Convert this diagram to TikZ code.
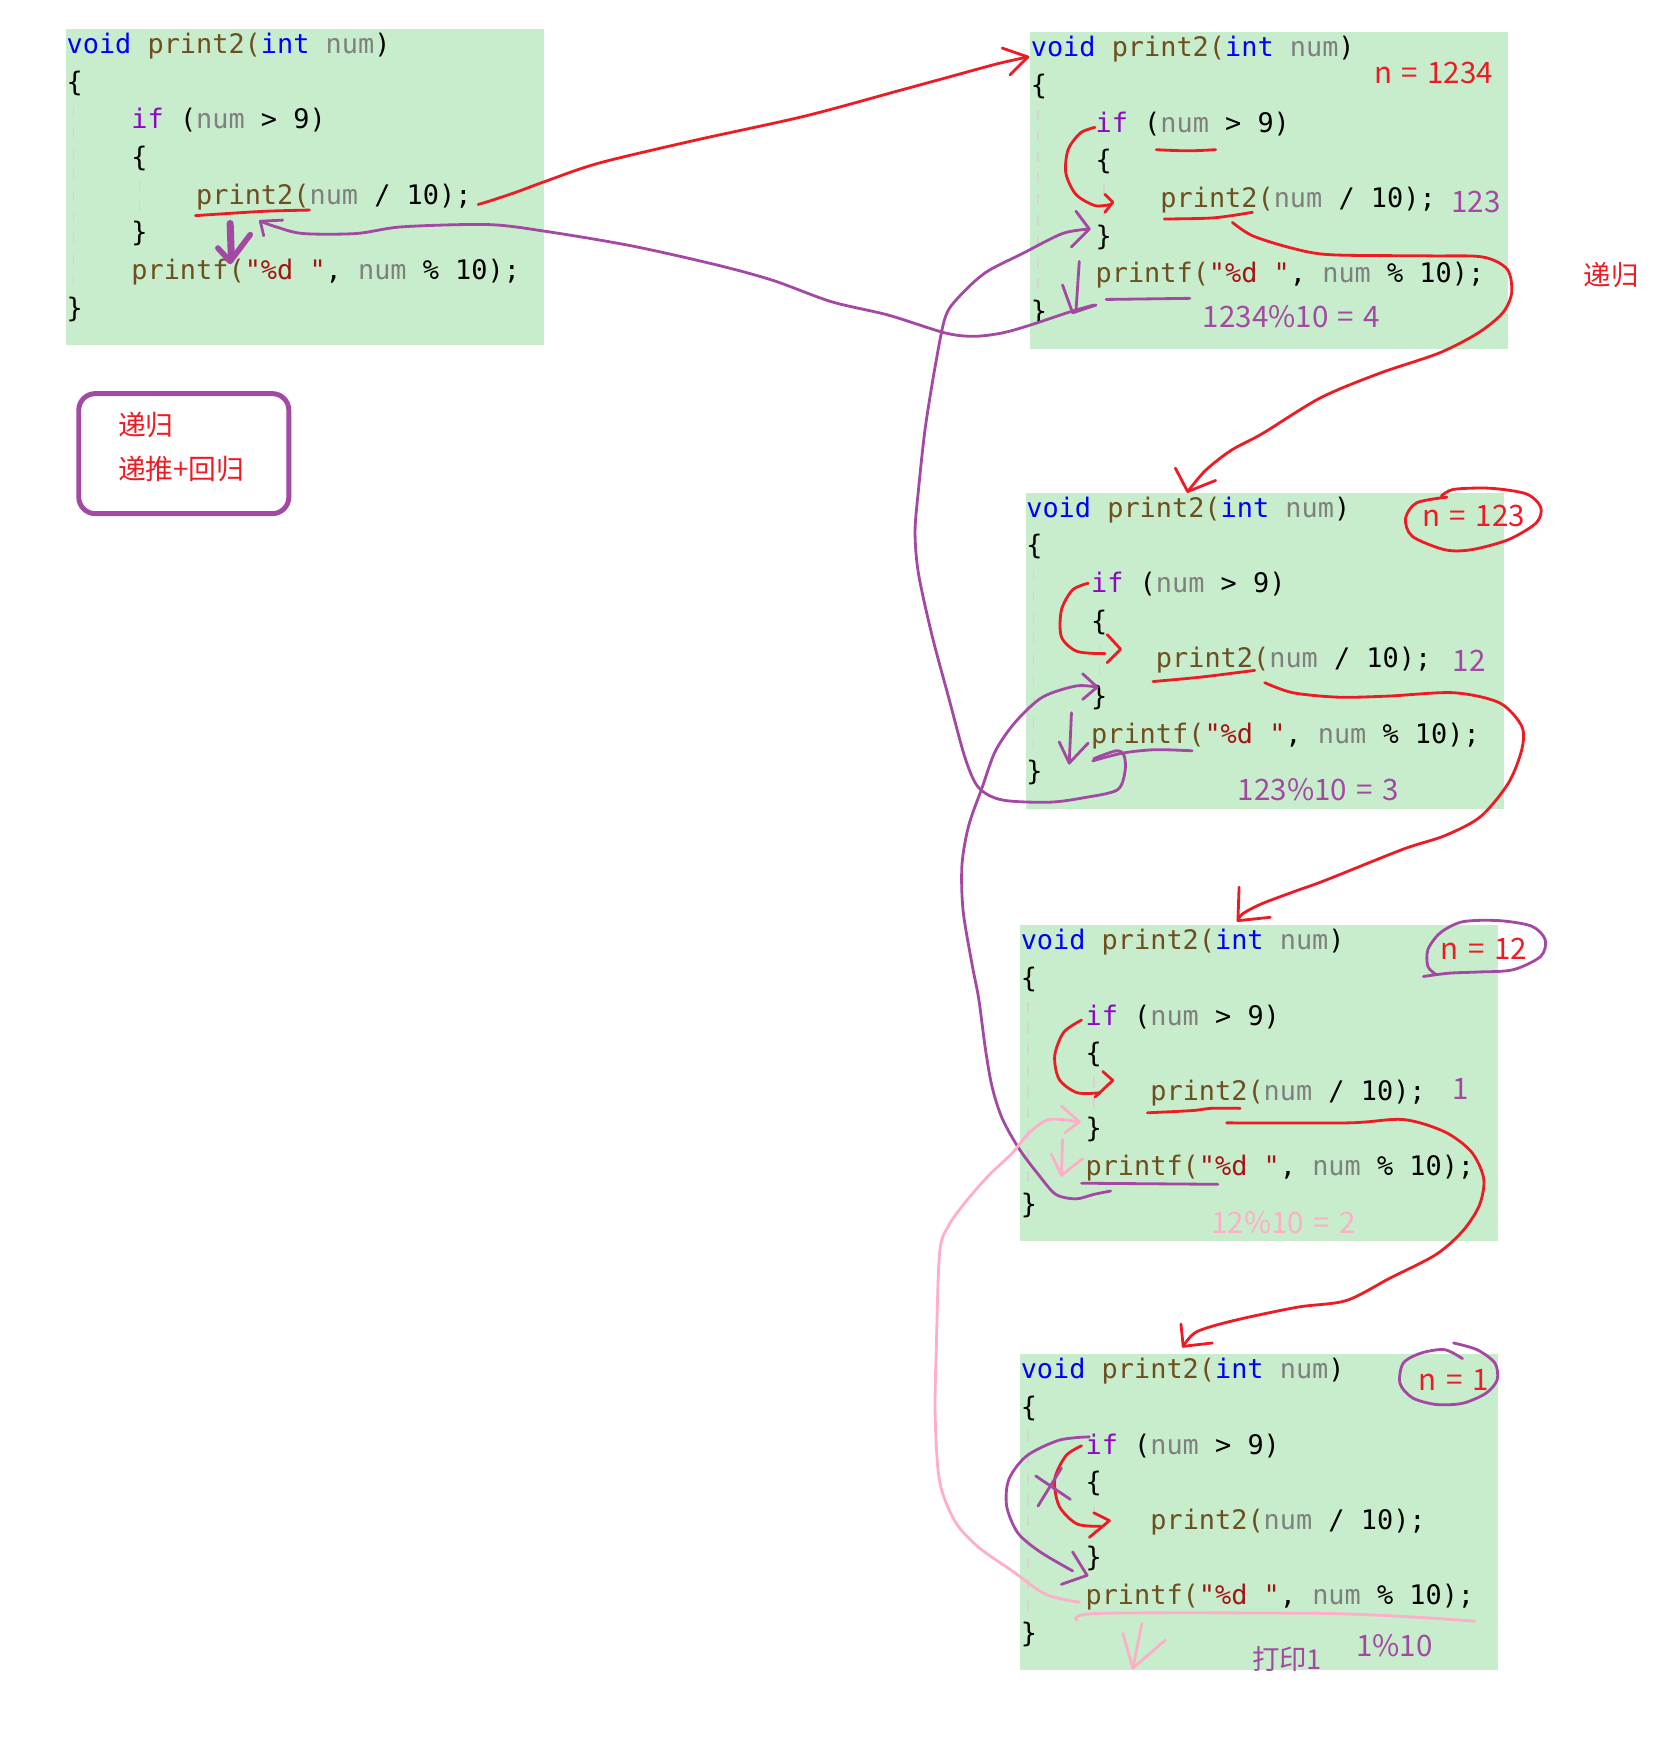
\documentclass[tikz,border=0pt]{standalone}
\usepackage{fontspec}
\usepackage{xcolor}
\usepackage{tikz}
\setmonofont{DejaVu Sans Mono}
\newfontfamily\cjk{Noto Sans CJK SC}

\definecolor{codebg}{RGB}{199,237,204}
\definecolor{kwblue}{RGB}{0,0,255}
\definecolor{fnbrown}{RGB}{111,78,31}
\definecolor{vargray}{RGB}{128,128,128}
\definecolor{ctlpurple}{RGB}{143,8,196}
\definecolor{strred}{RGB}{163,21,21}
\definecolor{penred}{RGB}{237,28,36}
\definecolor{penpurple}{RGB}{163,73,164}
\definecolor{penpink}{RGB}{255,174,201}
\definecolor{guidegray}{RGB}{212,212,212}

\newcommand{\kw}[1]{\textcolor{kwblue}{#1}}
\newcommand{\fn}[1]{\textcolor{fnbrown}{#1}}
\newcommand{\nm}[1]{\textcolor{vargray}{#1}}
\newcommand{\ctl}[1]{\textcolor{ctlpurple}{#1}}
\newcommand{\strlit}[1]{\textcolor{strred}{#1}}
\newcommand{\eqs}{\hspace{0.32em}=\hspace{0.32em}}

\tikzset{
  code/.style={anchor=base west,inner sep=0pt,font=\ttfamily\fontsize{7.65}{9}\selectfont},
  note/.style={inner sep=0pt,font=\cjk\fontsize{8.4}{10}\selectfont},
  pen/.style={line width=0.8pt,line cap=round,line join=round},
  redpen/.style={pen,draw=penred},
  purplepen/.style={pen,draw=penpurple},
  pinkpen/.style={pen,draw=penpink},
  guide/.style={draw=guidegray,dashed,line width=0.4pt}
}

% one block of the print2 source, top left corner at (#2,#3)
\newcommand{\codeblock}[3]{%
  \fill[codebg] (#2,#3) rectangle ++(428,283);
  \draw[guide] (#2+7,#3+69) -- (#2+7,#3+233);
  \draw[guide] (#2+66,#3+136) -- (#2+66,#3+165);
  \node (#1-1) at (#2,#3+22) [code] {\kw{void} \fn{print2(}\kw{int} \nm{num})};
  \node (#1-2) at (#2,#3+55.7) [code] {\{};
  \node (#1-3) at (#2+58,#3+89.4) [code] {\ctl{if} (\nm{num} > 9)};
  \node (#1-4) at (#2+58,#3+123.1) [code] {\{};
  \node (#1-5) at (#2+116,#3+156.8) [code] {\fn{print2(}\nm{num} / 10);};
  \node (#1-6) at (#2+58,#3+190.5) [code] {\}};
  \node (#1-7) at (#2+58,#3+224.2) [code] {\fn{printf(}\strlit{"\%d "}, \nm{num} \% 10);};
  \node (#1-8) at (#2,#3+257.9) [code] {\}};
}

\begin{document}
\begin{tikzpicture}[x=0.01117cm,y=-0.01117cm]
\useasboundingbox (0,0) rectangle (1494,1569);

\codeblock{main}{59}{26}
\codeblock{c1234}{922}{29}
\codeblock{c123}{918}{441}
\codeblock{c12}{913}{828}
\codeblock{c1}{913}{1212}

% legend
\node (legend) at (164.5,406) [draw=penpurple,line width=1.4pt,rounded corners=4.7pt,minimum width=2.1cm,minimum height=1.2cm] {};
\node (legendtext) at (105,400) [note,anchor=west,align=left,text=penred,font=\cjk\fontsize{7.9}{12.6}\selectfont] {递归\\递推+回归};

% values of n
\node (n1234) at (1283,65) [note,text=penred] {n\eqs 1234};
\node (n123) at (1319,462) [note,text=penred] {n\eqs 123};
\node (n12) at (1328,849) [note,text=penred] {n\eqs 12};
\node (n1) at (1301,1235) [note,text=penred] {n\eqs 1};
\node (arg123) at (1321,181) [note,text=penpurple] {123};
\node (arg12) at (1315,591) [note,text=penpurple] {12};
\node (arg1) at (1307,975) [note,text=penpurple] {1};
\node (rem4) at (1156,283) [note,text=penpurple] {1234\%10\eqs 4};
\node (rem3) at (1180,707) [note,text=penpurple] {123\%10\eqs 3};
\node (rem2) at (1149,1094) [note,text=penpink] {12\%10\eqs 2};
\node (rem1) at (1248,1473) [note,text=penpurple] {1\%10};
\node (out1) at (1152,1485) [note,text=penpurple,font=\cjk\fontsize{7.8}{10}\selectfont] {打印1};
\node (digui) at (1442,246) [note,text=penred,font=\cjk\fontsize{7.8}{10}\selectfont] {递归};

% ends of the arrows
\coordinate (call1) at (920,51);
\coordinate (call2) at (1063,440);
\coordinate (call3) at (1108,824);
\coordinate (call4) at (1059,1205);
\coordinate (ret1) at (233,198);
\coordinate (ret2) at (975,205);
\coordinate (ret3) at (982,615);
\coordinate (ret4) at (966,1004);

% going down (red)
\draw[redpen] plot[smooth] coordinates {(175,193) (205,191) (239,189) (277,188)};
\draw[redpen] plot[smooth] coordinates {(428,183) (438,180) (462,172) (489,162) (536,146) (620,126) (720,104) (805,81) (849,69) (893,57) (call1)};
\draw[redpen] (897,43) -- (call1) -- (904,67);

\draw[redpen] plot[smooth] coordinates {(1035,134) (1063,135) (1088,134)};
\draw[redpen] plot[smooth] coordinates {(980,114) (967,119) (956,134) (954,155) (963,174) (980,184) (994,183)};
\draw[redpen] (989,174) -- (996,181) -- (989,190);
\draw[redpen] plot[smooth] coordinates {(1042,196) (1086,195) (1121,190)};
\draw[redpen] plot[smooth] coordinates {(1103,199) (1121,211) (1156,222) (1191,228) (1279,229) (1327,230) (1349,241) (1353,262) (1345,280) (1323,298) (1288,316) (1235,334) (1182,356) (1130,388) (1102,403) (1079,421) (call2)};
\draw[redpen] (1052,419) -- (call2) -- (1088,430);

\draw[redpen] plot[smooth] coordinates {(1295,445) (1268,450) (1258,464) (1264,480) (1293,492) (1317,492) (1350,483) (1375,468) (1379,454) (1366,442) (1334,437) (1301,438) (1290,444)};
\draw[redpen] plot[smooth] coordinates {(974,522) (960,528) (950,546) (950,570) (964,583) (989,585)};
\draw[redpen] (991,568) -- (1003,581) -- (991,593);
\draw[redpen] plot[smooth] coordinates {(1032,610) (1075,606) (1123,600)};
\draw[redpen] plot[smooth] coordinates {(1132,611) (1157,620) (1198,624) (1243,623) (1301,620) (1342,629) (1362,650) (1362,671) (1350,701) (1325,731) (1293,748) (1256,760) (1186,788) (1161,797) (1129,809) (1112,818) (call3)};
\draw[redpen] (1109,794) -- (call3) -- (1137,821);

\draw[redpen] plot[smooth] coordinates {(968,913) (952,924) (944,945) (948,966) (964,978) (985,978)};
\draw[redpen] (987,959) -- (996,967) -- (980,982);
\draw[redpen] plot[smooth] coordinates {(1027,996) (1067,994) (1084,992) (1110,992)};
\draw[redpen] plot[smooth] coordinates {(1098,1005) (1207,1005) (1256,1002) (1293,1013) (1317,1031) (1328,1055) (1324,1079) (1309,1102) (1285,1123) (1244,1144) (1205,1164) (1161,1170) (1104,1182) (1071,1192) (call4)};
\draw[redpen] (1057,1185) -- (call4) -- (1085,1202);

\draw[redpen] plot[smooth] coordinates {(968,1294) (954,1303) (944,1324) (948,1348) (964,1364) (985,1366)};
\draw[redpen] (979,1354) -- (993,1361) -- (975,1376);

% coming back (purple, pink)
\draw[purplepen,line width=2pt] (206,200) -- (207,229);
\draw[purplepen,line width=1.6pt] (195,222) -- (206,234) -- (224,210);
\draw[purplepen] plot[smooth] coordinates {(979,273) (958,279) (922,291) (897,298) (872,301) (846,298) (795,282) (744,270) (692,251) (641,237) (565,220) (488,207) (437,201) (360,203) (319,209) (271,209) (247,203) (ret1)};
\draw[purplepen] (236,211) -- (ret1) -- (253,197);

\draw[purplepen] (963,189) -- (ret2) -- (959,221);
\draw[purplepen] (966,234) -- (963,279);
\draw[purplepen] (951,255) -- (960,280) -- (981,273);
\draw[purplepen] (990,268) -- (1065,267);
\draw[purplepen] plot[smooth] coordinates {(979,679) (999,672) (1006,676) (1007,690) (1000,707) (970,714) (939,718) (897,716) (876,705) (864,679) (849,624) (834,568) (822,513) (819,476) (822,439) (828,384) (837,328) (846,284) (858,266) (882,244) (915,227) (951,209) (ret2)};

\draw[purplepen] (969,603) -- (ret3) -- (969,626);
\draw[purplepen] (959,638) -- (957,683);
\draw[purplepen] (948,664) -- (957,683) -- (974,665);
\draw[purplepen] plot[smooth] coordinates {(978,681) (1005,674) (1034,671) (1067,672)};
\draw[purplepen] plot[smooth] coordinates {(994,1066) (979,1069) (963,1073) (945,1069) (930,1052) (912,1028) (897,1001) (888,973) (882,939) (876,894) (870,863) (862,815) (861,774) (867,739) (879,705) (891,672) (909,646) (933,624) (963,614) (ret3)};

\draw[purplepen] plot[smooth] coordinates {(1274,874) (1297,871) (1322,870) (1354,868) (1379,856) (1383,841) (1371,829) (1342,824) (1309,825) (1289,835) (1278,850) (1278,865) (1285,872)};
\draw[purplepen] (968,1059) -- (1090,1060);
\draw[pinkpen] (950,990) -- (ret4) -- (953,1014);
\draw[pinkpen] (951,1020) -- (950,1052);
\draw[pinkpen] (941,1033) -- (950,1052) -- (969,1037);
\draw[pinkpen] plot[smooth] coordinates {(966,1434) (936,1427) (906,1406) (876,1385) (855,1362) (841,1326) (837,1267) (838,1208) (841,1121) (849,1097) (864,1076) (885,1052) (906,1032) (921,1014) (939,1002) (ret4)};

\draw[purplepen] plot[smooth] coordinates {(1301,1202) (1322,1208) (1338,1220) (1340,1235) (1330,1247) (1309,1256) (1285,1257) (1264,1251) (1253,1238) (1256,1220) (1272,1211) (1293,1208) (1309,1216)};
\draw[purplepen] plot[smooth] coordinates {(975,1286) (948,1289) (919,1303) (903,1324) (901,1348) (911,1372) (931,1389) (960,1406)};
\draw[purplepen] (960,1389) -- (973,1410) -- (950,1418);
\draw[purplepen] (927,1321) -- (958,1342);
\draw[purplepen] (950,1314) -- (929,1348);
\draw[pinkpen] plot[smooth] coordinates {(964,1450) (985,1444) (1178,1444) (1260,1447) (1320,1451)};
\draw[pinkpen] (1022,1453) -- (1014,1493);
\draw[pinkpen] (1005,1462) -- (1014,1493) -- (1043,1468);
\end{tikzpicture}
\end{document}
